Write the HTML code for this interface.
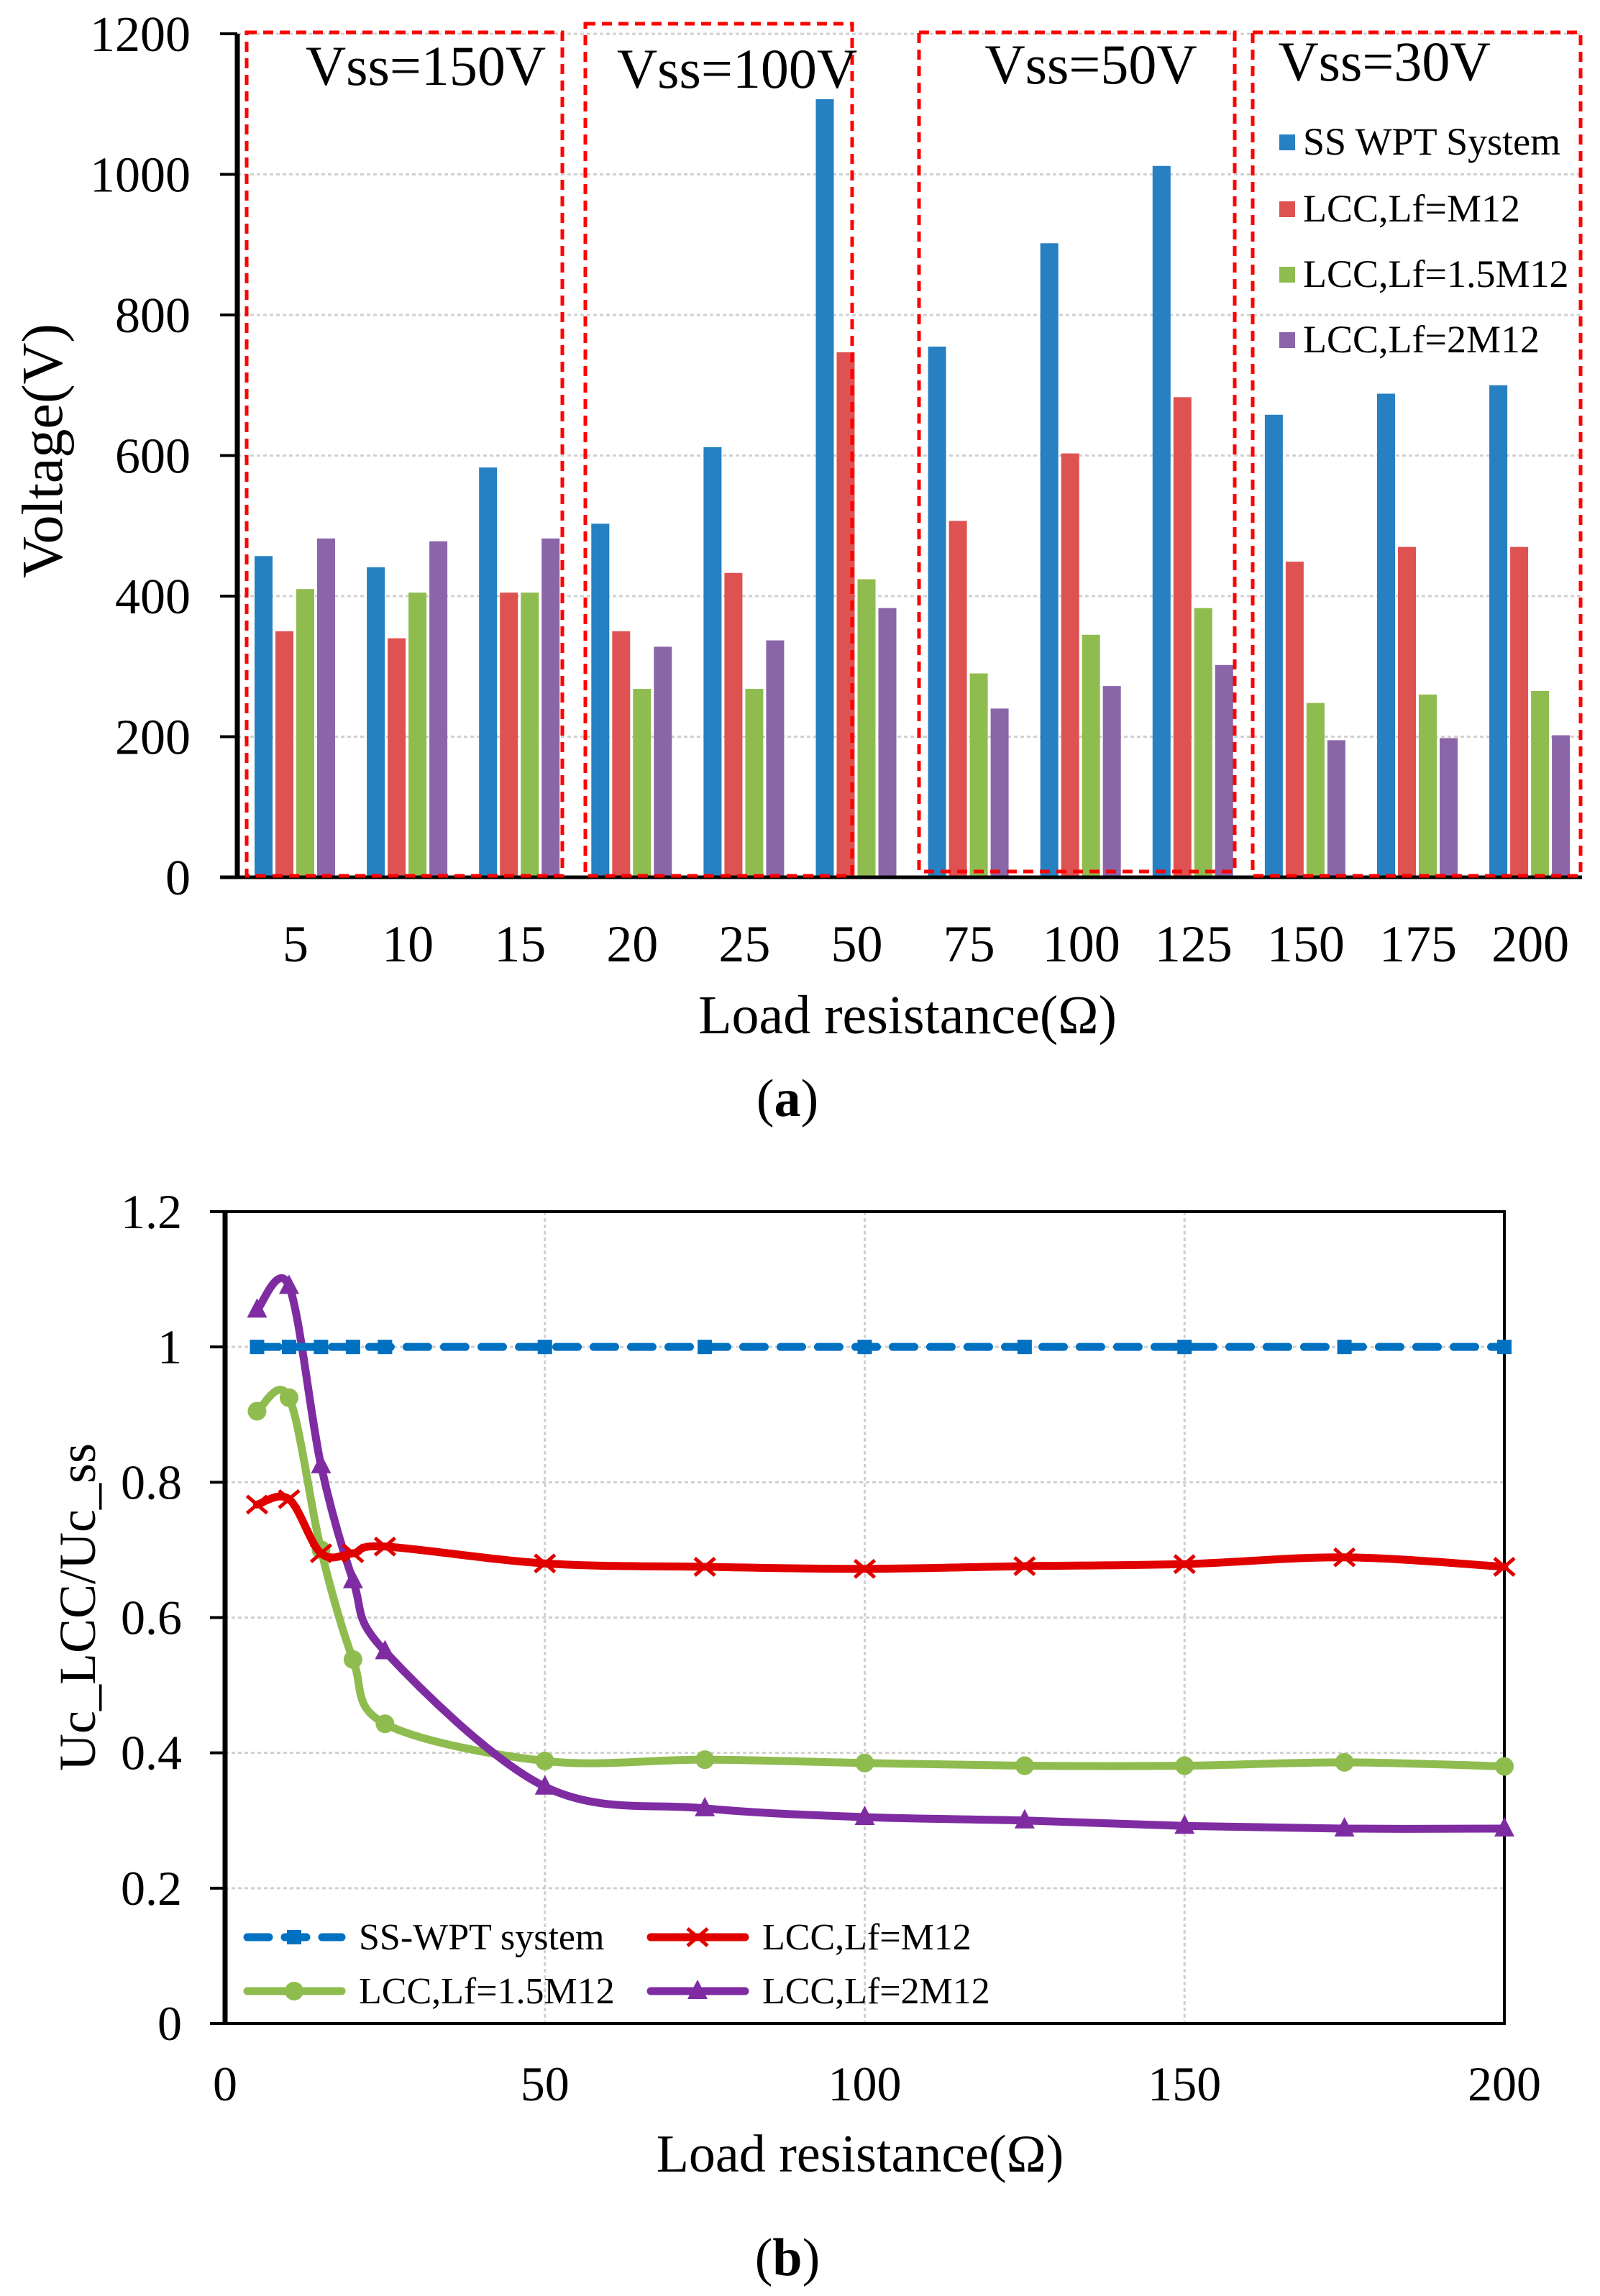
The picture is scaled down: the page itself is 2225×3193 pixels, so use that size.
<!DOCTYPE html>
<html><head><meta charset="utf-8"><style>
html,body{margin:0;padding:0;background:#fff}
svg{display:block;font-family:"Liberation Serif",serif}
</style></head><body>
<svg id="fig" width="2225" height="3193" viewBox="0 0 2225 3193" xmlns="http://www.w3.org/2000/svg">
<g id="chartA"></g>
<g id="chartB"></g>
</svg>
<script>
const NS="http://www.w3.org/2000/svg";
// ---- Chart A data ----
const catsA=["5","10","15","20","25","50","75","100","125","150","175","200"];
const ssVals=[457,441,583,503,612,1107,755,902,1012,658,688,700];
const m12Vals=[350,340,405,350,433,747,507,603,683,449,470,470];
const m15Vals=[410,405,405,268,268,424,290,345,383,248,260,265];
const m2Vals=[482,478,482,328,337,383,240,272,302,195,198,202];
const yTicksA=[0,200,400,600,800,1000,1200];
const seriesNamesA=["SS WPT System","LCC,Lf=M12","LCC,Lf=1.5M12","LCC,Lf=2M12"];
const vssLabels=["Vss=150V","Vss=100V","Vss=50V","Vss=30V"];
// ---- Chart B data ----
const xB=[5,10,15,20,25,50,75,100,125,150,175,200];
const ssB=[1,1,1,1,1,1,1,1,1,1,1,1];
const m12B=[0.767,0.775,0.695,0.695,0.705,0.68,0.675,0.672,0.676,0.679,0.689,0.675];
const m15B=[0.905,0.925,0.70,0.538,0.443,0.388,0.39,0.385,0.381,0.381,0.386,0.38];
const m2B=[1.055,1.09,0.825,0.655,0.55,0.35,0.318,0.305,0.3,0.292,0.288,0.288];
const yTicksB=[0,0.2,0.4,0.6,0.8,1,1.2];
const xTicksB=[0,50,100,150,200];

function el(tag,attrs,parent,text){const e=document.createElementNS(NS,tag);for(const k in attrs)e.setAttribute(k,attrs[k]);if(text!==undefined)e.textContent=text;parent.appendChild(e);return e;}

// ===== Chart A =====
const A=document.getElementById('chartA');
const aL=330,aR=2200,aY0=1220,aY1=47;
const yA=v=>aY0-(v/1200)*(aY0-aY1);
const xA=i=>411+i*156.1;
yTicksA.forEach(t=>{
  if(t>0){const g=el('line',{x1:aL,x2:aR,y1:yA(t),y2:yA(t),stroke:'#d0d0d0','stroke-width':3,'stroke-dasharray':'5 4'},A);
  }
  const tk=el('line',{x1:306,x2:aL,y1:yA(t),y2:yA(t),stroke:'#000','stroke-width':4},A);
  
  const tl=el('text',{x:265,y:yA(t)+24,'text-anchor':'end','font-size':70},A,String(t));
  
});
const colsA=['#2680c2','#df5252','#8fbc4f','#8a65a8'];
const serA=[ssVals,m12Vals,m15Vals,m2Vals];
serA.forEach((vals,s)=>{vals.forEach((v,i)=>{
  const x=xA(i)-57+s*29;
  const r=el('rect',{x:x,y:yA(v),width:25,height:aY0-yA(v),fill:colsA[s]},A);
  
  
});});
const ax=el('line',{x1:aL,x2:aL,y1:aY1,y2:aY0,stroke:'#000','stroke-width':7},A);

const bx=el('line',{x1:306,x2:aR,y1:aY0,y2:aY0,stroke:'#000','stroke-width':5},A);

const boxes=[[343,45,782,1218],[814,33,1185,1218],[1278,45,1717,1212],[1742,45,2198,1218]];
boxes.forEach((b,i)=>{
  const r=el('rect',{x:b[0],y:b[1],width:b[2]-b[0],height:b[3]-b[1],fill:'none',stroke:'#ff0000','stroke-width':5,'stroke-dasharray':'14 9'},A);
  
});
const vssPos=[[592,118],[1025,122],[1517,116],[1925,112]];
vssLabels.forEach((t,i)=>{const e=el('text',{x:vssPos[i][0],y:vssPos[i][1],'text-anchor':'middle','font-size':78},A,t);
  });
catsA.forEach((c,i)=>{const e=el('text',{x:xA(i),y:1337,'text-anchor':'middle','font-size':72},A,c);
  });
const legY=[198,291,382,473];
seriesNamesA.forEach((n,i)=>{
  const sq=el('rect',{x:1779,y:legY[i]-11,width:22,height:22,fill:colsA[i]},A);
  
  const t=el('text',{x:1812,y:legY[i]+17,'font-size':54},A,n);
  
});
let t1=el('text',{x:1262,y:1437,'text-anchor':'middle','font-size':76},A,'Load resistance(Ω)');

let t2=el('text',{transform:'translate(86,627) rotate(-90)','text-anchor':'middle','font-size':80},A,'Voltage(V)');

let t3=el('text',{x:1095,y:1552,'text-anchor':'middle','font-size':74},A);
t3.innerHTML='(<tspan font-weight="bold">a</tspan>)';


// ===== Chart B =====
const B=document.getElementById('chartB');
const bL=313,bR=2092,bY0=2814,bY1=1685;
const xBf=v=>bL+v/200*(bR-bL);
const yBf=v=>bY0-v/1.2*(bY0-bY1);
xTicksB.forEach(t=>{
  if(t>0&&t<200){const g=el('line',{x1:xBf(t),x2:xBf(t),y1:bY1,y2:bY0,stroke:'#d0d0d0','stroke-width':3,'stroke-dasharray':'5 4'},B);
  }
  const e=el('text',{x:xBf(t),y:2921,'text-anchor':'middle','font-size':68},B,String(t));
  
});
yTicksB.forEach(t=>{
  if(t>0&&t<1.2){const g=el('line',{x1:bL,x2:bR,y1:yBf(t),y2:yBf(t),stroke:'#d0d0d0','stroke-width':3,'stroke-dasharray':'5 4'},B);
  }
  const tk=el('line',{x1:292,x2:bL,y1:yBf(t),y2:yBf(t),stroke:'#000','stroke-width':4},B);
  
  const e=el('text',{x:253,y:yBf(t)+23,'text-anchor':'end','font-size':68},B,String(t));
  
});
const frame=el('rect',{x:bL,y:bY1,width:bR-bL,height:bY0-bY1,fill:'none',stroke:'#000','stroke-width':4},B);

const lax=el('line',{x1:bL,x2:bL,y1:bY1,y2:bY0,stroke:'#000','stroke-width':7},B);


function smooth(pts){let d='M'+pts[0][0]+','+pts[0][1];
  for(let i=0;i<pts.length-1;i++){const p0=pts[i-1]||pts[i],p1=pts[i],p2=pts[i+1],p3=pts[i+2]||p2;
    const c1=[p1[0]+(p2[0]-p0[0])/6,p1[1]+(p2[1]-p0[1])/6],c2=[p2[0]-(p3[0]-p1[0])/6,p2[1]-(p3[1]-p1[1])/6];
    d+=' C'+c1+' '+c2+' '+p2;}return d;}
function marker(type,x,y,c,parent){
  if(type==='sq'){return el('rect',{x:x-10,y:y-10,width:20,height:20,fill:c},parent);}
  if(type==='x'){return el('path',{d:`M${x-14},${y-12}L${x+14},${y+12}M${x-14},${y+12}L${x+14},${y-12}`,stroke:c,'stroke-width':5},parent);}
  if(type==='o'){return el('circle',{cx:x,cy:y,r:13,fill:c},parent);}
  return el('path',{d:`M${x},${y-16}L${x+14},${y+11}L${x-14},${y+11}Z`,fill:c},parent);
}
const serB=[[ssB,'#0070c0','sq',true],[m12B,'#e00000','x',false],[m15B,'#8fbc4f','o',false],[m2B,'#7f2ca3','tri',false]];
[2,3,1,0].forEach(si=>{
  const [vals,c,m,dash]=serB[si];
  const pts=xB.map((x,i)=>[xBf(x),yBf(vals[i])]);
  const p=el('path',{d:smooth(pts),fill:'none',stroke:c,'stroke-width':11,'stroke-linecap':'round','stroke-dasharray':dash?'30 22':'none'},B);
  
  pts.forEach(pt=>{const mk=marker(m,pt[0],pt[1],c,B);
    });
});
const legB=[['SS-WPT system',344,2694,0],['LCC,Lf=M12',905,2694,1],['LCC,Lf=1.5M12',344,2769,2],['LCC,Lf=2M12',905,2769,3]];
legB.forEach(l=>{const [n,x,y,si]=l;const [v,c,m,dash]=serB[si];
  const ln=el('line',{x1:x,x2:x+131,y1:y,y2:y,stroke:c,'stroke-width':11,'stroke-linecap':'round','stroke-dasharray':dash?'30 22':'none'},B);
  
  const mk=marker(m,x+65,y,c,B);
  const t=el('text',{x:x+155,y:y+17,'font-size':52},B,n);
  
});
let u1=el('text',{x:1196,y:3020,'text-anchor':'middle','font-size':74},B,'Load resistance(Ω)');

let u2=el('text',{transform:'translate(132,2235) rotate(-90)','text-anchor':'middle','font-size':72},B,'Uc_LCC/Uc_ss');

let u3=el('text',{x:1095,y:3164,'text-anchor':'middle','font-size':74},B);
u3.innerHTML='(<tspan font-weight="bold">b</tspan>)';

</script>
</body></html>
